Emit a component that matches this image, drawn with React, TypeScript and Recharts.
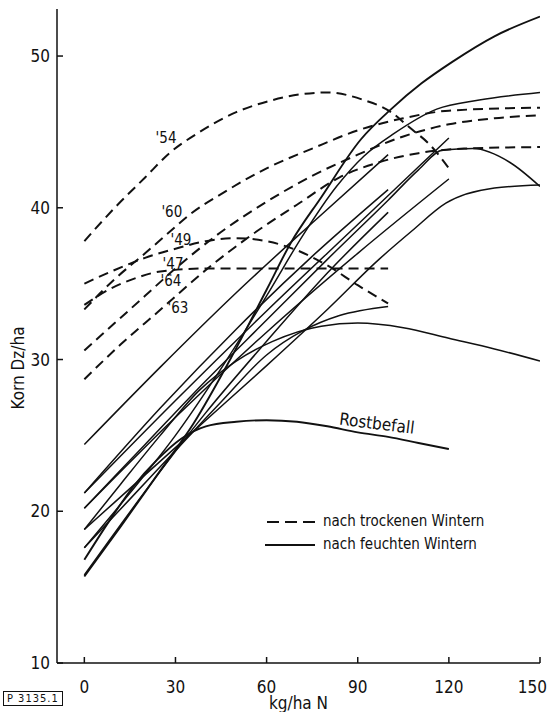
import { ComposedChart, Line, Scatter, XAxis, YAxis, Legend } from "recharts";

type Pt = [number, number];

const FONT = '"DejaVu Sans Condensed", "Liberation Sans Narrow", "DejaVu Sans", sans-serif';
const INK = "#111";

const xTicks = [0, 30, 60, 90, 120, 150];
const yTicks = [10, 20, 30, 40, 50];

// nach trockenen Wintern (gestrichelt)
const dry54: Pt[] = [[0, 37.8], [10, 40.0], [20, 42.0], [28, 43.6], [38, 45.0], [50, 46.3], [62, 47.1], [72, 47.5], [80, 47.6], [92, 47.1], [101, 46.3], [107, 45.3], [114, 44.1], [120, 42.6]];
const dry60: Pt[] = [[0, 33.3], [10, 35.3], [20, 37.0], [28, 38.4], [35, 39.6], [45, 40.9], [60, 42.6], [75, 43.9], [90, 45.1], [105, 45.9], [120, 46.4], [150, 46.6]];
const dry49: Pt[] = [[0, 35.0], [10, 35.9], [20, 36.7], [30, 37.3], [40, 37.8], [50, 38.0], [60, 37.8], [70, 37.2], [80, 36.2], [90, 34.9], [100, 33.7]];
const dry47: Pt[] = [[0, 30.6], [10, 32.4], [20, 34.2], [30, 36.0], [45, 38.4], [60, 40.4], [75, 42.1], [90, 43.5], [105, 44.7], [120, 45.5], [135, 45.9], [150, 46.1]];
const dry64: Pt[] = [[0, 33.6], [8, 34.6], [16, 35.3], [25, 35.8], [40, 36.0], [60, 36.0], [80, 36.0], [100, 36.0]];
const dry63: Pt[] = [[0, 28.7], [12, 31.0], [24, 33.1], [40, 35.9], [55, 38.2], [70, 40.2], [84, 42.0], [97, 43.0], [110, 43.6], [125, 43.9], [150, 44.0]];

// nach feuchten Wintern (durchgezogen)
const wet1: Pt[] = [[0, 15.7], [12, 19.0], [24, 22.4], [36, 25.8], [48, 30.0], [60, 34.6], [68, 37.7], [78, 40.7], [91, 44.5], [101, 46.5], [111, 48.2], [121, 49.6], [135, 51.3], [150, 52.6]];
const wetRost: Pt[] = [[0, 16.8], [8, 19.3], [16, 21.6], [24, 23.4], [32, 24.8], [40, 25.6], [50, 25.9], [60, 26.0], [70, 25.9], [80, 25.6], [90, 25.2], [100, 24.9], [110, 24.5], [120, 24.1]];
const wet3: Pt[] = [[0, 17.6], [15, 21.2], [30, 25.0], [45, 29.4], [60, 34.2], [72, 38.2], [83, 41.4], [92, 43.4], [102, 44.9], [116, 46.5], [130, 47.1], [150, 47.6]];
const wet4: Pt[] = [[0, 18.8], [12, 21.8], [25, 25.0], [38, 28.0], [50, 29.9], [62, 31.2], [78, 32.2], [90, 32.4], [105, 32.1], [120, 31.4], [135, 30.7], [150, 29.9]];
const wet5: Pt[] = [[0, 17.6], [15, 20.8], [30, 24.0], [45, 27.2], [60, 30.3], [72, 31.9], [84, 32.9], [100, 33.5]];
const wet6: Pt[] = [[0, 20.2], [20, 24.4], [40, 28.6], [60, 32.6], [80, 36.6], [100, 40.5], [110, 42.5], [118, 43.8], [128, 43.9], [140, 43.0], [150, 41.4]];
const wet7: Pt[] = [[0, 18.8], [20, 22.4], [40, 26.0], [60, 29.6], [80, 33.3], [97, 36.6], [108, 38.5], [119, 40.3], [135, 41.3], [150, 41.5]];
const wet8: Pt[] = [[0, 21.2], [30, 27.3], [60, 33.2], [90, 38.9], [120, 44.6]];
const wet9: Pt[] = [[0, 20.2], [30, 26.2], [60, 31.8], [90, 37.0], [120, 41.9]];
const wet10: Pt[] = [[0, 24.4], [25, 29.5], [50, 34.4], [75, 39.0], [100, 43.5]];
const wet11: Pt[] = [[0, 21.2], [25, 26.8], [50, 32.0], [75, 36.8], [100, 41.2]];
const wet12: Pt[] = [[0, 15.8], [20, 21.3], [40, 26.5], [60, 31.2], [80, 35.7], [100, 39.7]];

const dryCurves = [dry54, dry60, dry49, dry47, dry64, dry63];
const wetCurves = [wet1, wetRost, wet3, wet4, wet5, wet6, wet7, wet8, wet9, wet10, wet11, wet12];

const curveLabels = [
  { x: 26.9, y: 44.6, text: "'54", angle: 0 },
  { x: 28.8, y: 39.7, text: "'60", angle: 0 },
  { x: 31.8, y: 37.9, text: "'49", angle: 0 },
  { x: 29.2, y: 36.3, text: "'47", angle: 0 },
  { x: 28.5, y: 35.2, text: "'64", angle: 0 },
  { x: 30.8, y: 33.4, text: "'63", angle: 0 },
  { x: 96.3, y: 25.8, text: "Rostbefall", angle: 7 },
];

const toPts = (arr: Pt[]) => arr.map(([x, y]) => ({ x, y }));

const CurveLabel = (props: any) => {
  const { cx, cy, payload } = props;
  return (
    <text
      x={cx}
      y={cy}
      textAnchor="middle"
      dominantBaseline="central"
      fontSize={payload.text.length > 4 ? 17 : 15}
      fontFamily={FONT}
      fill={INK}
      transform={payload.angle ? `rotate(${payload.angle} ${cx} ${cy})` : undefined}
    >
      {payload.text}
    </text>
  );
};

const XTick = (props: any) => {
  const { x, y, payload } = props;
  const last = payload.value === 150;
  return (
    <text x={last ? 547 : x} y={y} dy="0.71em" textAnchor={last ? "end" : "middle"} fontSize={17} fontFamily={FONT} fill={INK}>
      {payload.value}
    </text>
  );
};

const LegendBox = () => (
  <div style={{ fontFamily: FONT, fontSize: 15, color: INK, lineHeight: "23px" }}>
    <div style={{ display: "flex", alignItems: "center" }}>
      <svg width={52} height={10}>
        <line x1={2} y1={5} x2={50} y2={5} stroke={INK} strokeWidth={2} strokeDasharray="12 6" />
      </svg>
      <span style={{ marginLeft: 6 }}>nach trockenen Wintern</span>
    </div>
    <div style={{ display: "flex", alignItems: "center" }}>
      <svg width={52} height={10}>
        <line x1={0} y1={5} x2={50} y2={5} stroke={INK} strokeWidth={1.8} />
      </svg>
      <span style={{ marginLeft: 6 }}>nach feuchten Wintern</span>
    </div>
  </div>
);

export default function App() {
  return (
    <div style={{ position: "relative", width: 548, height: 712, fontFamily: FONT }}>
      <style>{"html, body { margin: 0; padding: 0; overflow: hidden; }"}</style>
      <ComposedChart width={548} height={712} margin={{ top: 9, right: 8, bottom: 0, left: 0 }}>
        <XAxis
          type="number"
          dataKey="x"
          domain={[-9, 150]}
          ticks={xTicks}
          allowDataOverflow
          height={49}
          tickSize={-6}
          tickMargin={24}
          stroke={INK}
          strokeWidth={1.5}
          tick={<XTick />}
          label={{ value: "kg/ha N", position: "insideBottom", offset: 3, fill: INK, fontSize: 17, fontFamily: FONT }}
        />
        <YAxis
          type="number"
          dataKey="y"
          domain={[10, 53.1]}
          ticks={yTicks}
          allowDataOverflow
          width={57}
          tickSize={-6}
          tickMargin={13}
          stroke={INK}
          strokeWidth={1.5}
          tick={{ fill: INK, fontSize: 17, fontFamily: FONT }}
          label={{
            content: () => (
              <text x={18} y={368} transform="rotate(-90 18 368)" textAnchor="middle" dominantBaseline="central" fontSize={17} fontFamily={FONT} fill={INK}>
                Korn Dz/ha
              </text>
            ),
          }}
        />
        <Legend
          layout="horizontal"
          verticalAlign="middle"
          align="center"
          content={<LegendBox />}
          wrapperStyle={{ left: 265, top: 510, width: 260 }}
        />
        {dryCurves.map((c, i) => (
          <Line
            key={`dry${i}`}
            data={toPts(c)}
            dataKey="y"
            type="monotone"
            stroke={INK}
            strokeWidth={2}
            strokeDasharray="10 6"
            dot={false}
            activeDot={false}
            legendType="none"
            isAnimationActive={false}
          />
        ))}
        {wetCurves.map((c, i) => (
          <Line
            key={`wet${i}`}
            data={toPts(c)}
            dataKey="y"
            type="monotone"
            stroke={INK}
            strokeWidth={i === 0 || i === 1 ? 1.9 : 1.5}
            dot={false}
            activeDot={false}
            legendType="none"
            isAnimationActive={false}
          />
        ))}
        <Scatter data={curveLabels} dataKey="y" shape={<CurveLabel />} legendType="none" isAnimationActive={false} />
      </ComposedChart>
      <div
        style={{
          position: "absolute",
          left: 3,
          top: 691,
          border: `1px solid ${INK}`,
          fontSize: 11,
          lineHeight: "13px",
          letterSpacing: 1,
          padding: "0 3px",
          color: INK,
          fontFamily: FONT,
          whiteSpace: "nowrap",
        }}
      >
        P 3135.1
      </div>
    </div>
  );
}
